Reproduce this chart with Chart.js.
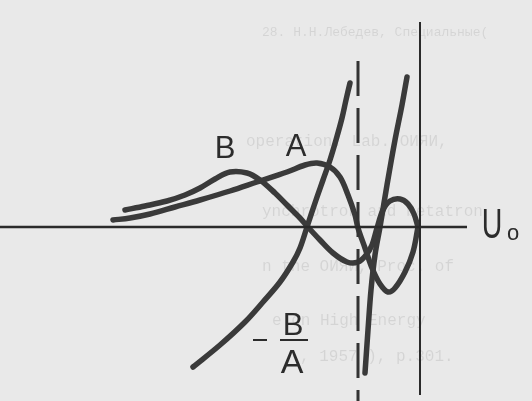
<!DOCTYPE html>
<html>
<head>
<meta charset="utf-8">
<script src="https://cdn.jsdelivr.net/npm/chart.js@4"></script>
<style>
  html, body { margin: 0; padding: 0; background: #e9e9e9; }
  #wrap { width: 532px; height: 401px; }
</style>
</head>
<body>
<div id="wrap"><canvas id="plot"></canvas></div>
<script>
// U0 along x, function value along y; the U0 axis sits at y = 0
const curveA = [
  [-15.35, 0.35], [-14.5, 0.45], [-13.5, 0.65], [-12.25, 1.0], [-11, 1.35],
  [-9.5, 1.8], [-8.15, 2.25], [-6.65, 2.75], [-5.75, 3.1], [-5.15, 3.2],
  [-4.5, 3.0], [-4, 2.5], [-3.6, 1.6], [-3.25, 0.6], [-3.1, -0.05],
  [-2.75, -1.05], [-2.4, -2.05], [-2, -2.85], [-1.6, -3.25], [-1.25, -3.05],
  [-0.75, -2.25], [-0.35, -1.25], [-0.1, 0]
];
const curveB = [
  [-14.75, 0.85], [-13.75, 1.05], [-12.65, 1.3], [-11.75, 1.6], [-11, 1.95],
  [-10.25, 2.4], [-9.5, 2.75], [-8.65, 2.7], [-8, 2.35], [-7.25, 1.7],
  [-6.65, 1.1], [-6, 0.45], [-5.65, 0.05], [-5, -0.65], [-4.35, -1.3],
  [-3.65, -1.75], [-3.1, -1.75], [-2.7, -1.4], [-2.4, -0.9], [-2.15, -0.05],
  [-1.85, 0.85], [-1.5, 1.3], [-1, 1.4], [-0.6, 1.15], [-0.3, 0.65], [-0.1, 0]
];
// -B/A, both branches around the pole where A = 0
const ratioLeft = [
  [-11.35, -7], [-10, -5.9], [-8.75, -4.75], [-7.85, -3.75], [-7, -2.75],
  [-6.35, -1.75], [-6, -1.05], [-5.65, 0], [-5.2, 1.35], [-4.85, 2.35],
  [-4.5, 3.35], [-4.2, 4.35], [-3.9, 5.45], [-3.7, 6.35], [-3.5, 7.2]
];
const ratioRight = [
  [-2.75, -7.3], [-2.6, -5.15], [-2.45, -3.15], [-2.25, -1.4], [-2, 0],
  [-1.65, 2.1], [-1.25, 4.35], [-0.9, 6.1], [-0.65, 7.5]
];

const uAxis = [[-21, 0], [2.35, 0]];
const zeroLine = [[0, 10.25], [0, -8.4]];
const poleLine = [[-3.1, 8.3], [-3.1, -8.7]];

const curveLabels = [
  { text: 'B', at: [-9.75, 3.45] },
  { text: 'A', at: [-6.2, 3.55] }
];

// faint type from the facing page
const showThrough = [
  ['28. Н.Н.Лебедев, Специальные(', 262, 36, 13],
  ['operation. Lab. ОИЯИ,', 246, 146, 16],
  ['ynchrotron and betatron', 262, 216, 16],
  ['n the ОИЯИ, Proc. of', 262, 271, 16],
  ['e on High Energy', 272, 325, 16],
  [', 1957 ), p.301.', 300, 361, 16]
];

const pts = arr => arr.map(([x, y]) => ({ x, y }));

const ink = '#3a3a3a';
const curve = (label, arr) => ({
  label, data: pts(arr), borderColor: ink, borderWidth: 5.5,
  tension: 0.35, borderCapStyle: 'round', borderJoinStyle: 'round'
});

const paper = {
  id: 'paper',
  beforeDraw(chart) {
    const ctx = chart.ctx;
    ctx.save();
    ctx.fillStyle = '#e9e9e9';
    ctx.fillRect(0, 0, chart.width, chart.height);
    ctx.fillStyle = 'rgba(0,0,0,0.085)';
    showThrough.forEach(([t, x, y, s]) => {
      ctx.font = s + 'px "Liberation Mono"';
      ctx.fillText(t, x, y);
    });
    ctx.restore();
  }
};

const lettering = {
  id: 'lettering',
  afterDatasetsDraw(chart) {
    const { ctx, scales: { x, y } } = chart;
    const px = v => x.getPixelForValue(v);
    const py = v => y.getPixelForValue(v);
    ctx.save();
    ctx.fillStyle = '#2c2c2c';
    ctx.strokeStyle = '#2c2c2c';
    ctx.textAlign = 'center';
    ctx.textBaseline = 'alphabetic';
    ctx.font = '31px "Liberation Sans"';
    curveLabels.forEach(l => ctx.fillText(l.text, px(l.at[0]), py(l.at[1])));

    // - B/A
    ctx.fillText('B', px(-6.35), py(-5.4));
    ctx.font = '34px "Liberation Sans"';
    ctx.fillText('A', px(-6.4), py(-7.3));
    ctx.lineWidth = 2.2;
    ctx.beginPath();
    ctx.moveTo(px(-7), py(-5.65));
    ctx.lineTo(px(-5.6), py(-5.65));
    ctx.moveTo(px(-8.35), py(-5.65));
    ctx.lineTo(px(-7.65), py(-5.65));
    ctx.stroke();

    // U0
    ctx.save();
    ctx.translate(px(3.6), py(-0.55));
    ctx.scale(0.68, 1);
    ctx.font = '42px "Liberation Sans"';
    ctx.fillText('U', 0, 0);
    ctx.restore();
    ctx.font = '22px "Liberation Sans"';
    ctx.fillText('o', px(4.65), py(-0.65));
    ctx.restore();
  }
};

new Chart(document.getElementById('plot'), {
  type: 'scatter',
  data: {
    datasets: [
      { label: 'U0', data: pts(uAxis), borderColor: '#2a2a2a', borderWidth: 2.5 },
      { label: 'zero', data: pts(zeroLine), borderColor: '#2a2a2a', borderWidth: 2 },
      { label: 'pole', data: pts(poleLine), borderColor: '#333', borderWidth: 3,
        borderDash: [35, 12] },
      curve('A', curveA),
      curve('B', curveB),
      curve('-B/A', ratioLeft),
      curve('-B/A', ratioRight)
    ]
  },
  options: {
    responsive: true,
    maintainAspectRatio: false,
    animation: false,
    showLine: true,
    layout: { padding: 0 },
    elements: { point: { radius: 0, hoverRadius: 0 } },
    plugins: { legend: { display: false }, tooltip: { enabled: false } },
    scales: {
      x: { type: 'linear', min: -21, max: 5.6, display: false },
      y: { type: 'linear', min: -8.7, max: 11.35, display: false }
    }
  },
  plugins: [paper, lettering]
});
</script>
</body>
</html>
